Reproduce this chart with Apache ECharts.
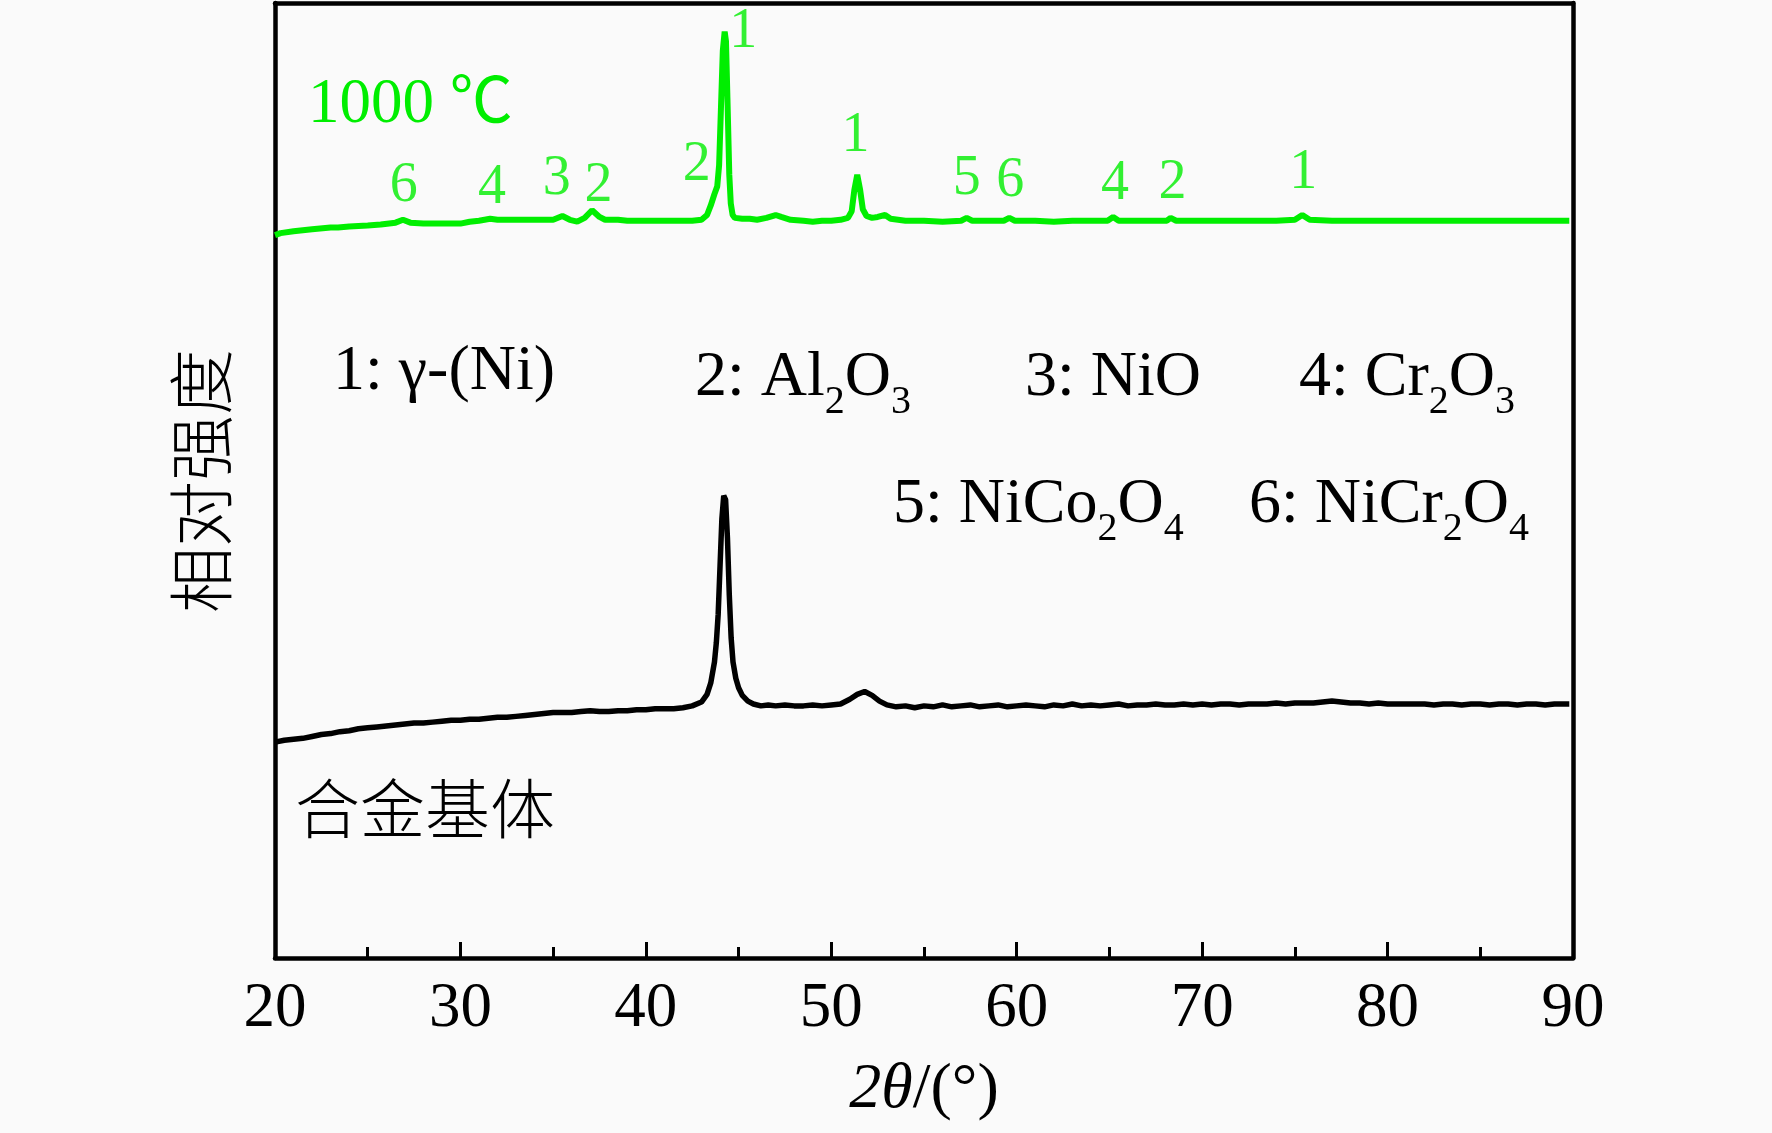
<!DOCTYPE html>
<html>
<head>
<meta charset="utf-8">
<script src="https://cdn.jsdelivr.net/npm/echarts@6/dist/echarts.min.js"></script>
<style>
html,body{margin:0;padding:0;background:#fafafa;}
#chart{width:1772px;height:1133px;}
</style>
</head>
<body>
<div id="chart"></div>
<script>
// ---- data (2θ in degrees, relative intensity in arbitrary units) ----
const xTicks = [20, 30, 40, 50, 60, 70, 80, 90];

const alloyBase = [
  [20.0,22.6],[20.5,22.8],[21.0,22.9],[21.5,23.0],[22.0,23.2],[22.5,23.4],[23.0,23.5],[23.5,23.7],
  [24.0,23.8],[24.5,24.0],[25.0,24.1],[25.5,24.2],[26.0,24.3],[26.5,24.4],[27.0,24.5],[27.5,24.6],
  [28.0,24.6],[28.5,24.7],[29.0,24.8],[29.5,24.9],[30.0,24.9],[30.5,25.0],[31.0,25.0],[31.5,25.1],
  [32.0,25.2],[32.5,25.2],[33.0,25.3],[33.5,25.4],[34.0,25.5],[34.5,25.6],[35.0,25.7],[35.5,25.7],
  [36.0,25.7],[36.5,25.8],[37.0,25.9],[37.5,25.8],[38.0,25.8],[38.5,25.9],[39.0,25.9],[39.5,26.0],
  [40.0,26.0],[40.5,26.1],[41.0,26.1],[41.5,26.1],[42.0,26.2],[42.5,26.4],[43.0,26.8],[43.3,27.6],
  [43.5,28.8],[43.7,31.0],[43.8,33.0],[43.9,36.0],[44.0,41.0],[44.1,46.0],[44.2,48.4],[44.3,48.0],
  [44.4,44.0],[44.5,38.0],[44.6,33.5],[44.7,31.0],[44.85,29.3],[45.0,28.3],[45.2,27.5],[45.5,26.9],
  [45.8,26.6],[46.2,26.4],[46.6,26.5],[47.0,26.4],[47.5,26.5],[48.0,26.4],[48.5,26.4],[49.0,26.5],
  [49.5,26.4],[50.0,26.5],[50.5,26.6],[51.0,27.1],[51.4,27.6],[51.8,27.9],[52.2,27.5],[52.6,26.9],
  [53.0,26.5],[53.5,26.3],[54.0,26.4],[54.5,26.2],[55.0,26.4],[55.5,26.3],[56.0,26.5],[56.5,26.3],
  [57.0,26.4],[57.5,26.5],[58.0,26.3],[58.5,26.4],[59.0,26.5],[59.5,26.3],[60.0,26.4],[60.5,26.5],
  [61.0,26.4],[61.5,26.3],[62.0,26.5],[62.5,26.4],[63.0,26.6],[63.5,26.4],[64.0,26.5],[64.5,26.4],
  [65.0,26.5],[65.5,26.6],[66.0,26.4],[66.5,26.5],[67.0,26.5],[67.5,26.6],[68.0,26.5],[68.5,26.5],
  [69.0,26.6],[69.5,26.5],[70.0,26.6],[70.5,26.5],[71.0,26.6],[71.5,26.6],[72.0,26.5],[72.5,26.6],
  [73.0,26.6],[73.5,26.6],[74.0,26.7],[74.5,26.6],[75.0,26.7],[75.5,26.7],[76.0,26.7],[76.5,26.8],
  [77.0,26.9],[77.5,26.8],[78.0,26.7],[78.5,26.7],[79.0,26.6],[79.5,26.7],[80.0,26.6],[80.5,26.6],
  [81.0,26.6],[81.5,26.6],[82.0,26.6],[82.5,26.5],[83.0,26.6],[83.5,26.6],[84.0,26.5],[84.5,26.6],
  [85.0,26.6],[85.5,26.5],[86.0,26.6],[86.5,26.6],[87.0,26.5],[87.5,26.6],[88.0,26.6],[88.5,26.5],
  [89.0,26.6],[89.5,26.6],[89.8,26.6]
];

const oxidized1000 = [
  [20.0,75.7],[20.3,75.9],[21.0,76.1],[22.0,76.3],[23.0,76.5],[23.4,76.5],[24.0,76.6],[25.0,76.7],
  [25.7,76.8],[26.5,77.0],[26.9,77.3],[27.3,77.0],[28.0,76.9],[29.0,76.9],[30.0,76.9],[30.5,77.1],
  [31.0,77.2],[31.6,77.4],[32.0,77.3],[33.0,77.3],[34.0,77.3],[35.0,77.3],[35.5,77.7],[35.9,77.3],
  [36.3,77.1],[36.7,77.5],[37.1,78.3],[37.5,77.6],[37.8,77.3],[38.5,77.3],[39.0,77.2],[40.0,77.2],
  [41.0,77.2],[42.0,77.2],[42.5,77.2],[43.0,77.3],[43.3,77.8],[43.5,78.8],[43.7,80.0],[43.85,80.8],
  [43.95,83.0],[44.05,89.0],[44.15,95.0],[44.25,97.0],[44.32,96.0],[44.4,90.0],[44.5,82.0],[44.58,79.0],
  [44.68,77.8],[44.8,77.5],[45.2,77.4],[45.6,77.4],[46.0,77.3],[46.5,77.5],[47.0,77.8],[47.3,77.6],
  [47.8,77.3],[48.5,77.2],[49.0,77.1],[49.5,77.2],[50.0,77.2],[50.5,77.3],[50.9,77.5],[51.1,78.2],
  [51.25,80.5],[51.4,82.0],[51.55,80.5],[51.7,78.4],[51.9,77.7],[52.2,77.5],[52.5,77.6],[52.9,77.8],
  [53.2,77.4],[53.6,77.3],[54.0,77.2],[55.0,77.2],[56.0,77.1],[57.0,77.2],[57.3,77.5],[57.6,77.2],
  [58.5,77.2],[59.3,77.2],[59.6,77.5],[59.9,77.2],[61.0,77.2],[62.0,77.1],[63.0,77.2],[64.0,77.2],
  [64.9,77.2],[65.2,77.6],[65.5,77.2],[66.5,77.2],[67.5,77.2],[68.1,77.2],[68.3,77.5],[68.6,77.2],
  [70.0,77.2],[71.0,77.2],[72.0,77.2],[73.0,77.2],[74.0,77.2],[75.0,77.3],[75.4,77.8],[75.8,77.3],
  [77.0,77.2],[80.0,77.2],[83.0,77.2],[86.0,77.2],[89.8,77.2]
];

// phase index labels above the 1000 ℃ pattern (position in 2θ, intensity units)
const peakLabelText = ['6','4','3','2','2','1','1','5','6','4','2','1'];
const peakLabelX    = [26.95,31.7,35.2,37.45,42.75,45.25,51.3,57.3,59.65,65.3,68.4,75.45];
const peakLabelY    = [80.8,80.6,81.5,80.8,83.0,96.9,86.0,81.5,81.3,81.0,81.1,82.2];

const phaseLegend = [
  '{m|1: γ-(Ni)}',
  '{m|2: Al}{s|2}{m|O}{s|3}',
  '{m|3: NiO}',
  '{m|4: Cr}{s|2}{m|O}{s|3}',
  '{m|5: NiCo}{s|2}{m|O}{s|4}',
  '{m|6: NiCr}{s|2}{m|O}{s|4}'
];

// ---- chart ----
const SERIF = '"Liberation Serif", "Times New Roman", serif';
const CJK = '"Noto Sans CJK SC", sans-serif';
const GREEN = '#00ee00';

const chart = echarts.init(document.getElementById('chart'), null, {renderer: 'canvas'});

const richStyle = {
  m: {fontFamily: SERIF, fontSize: 64, lineHeight: 64, verticalAlign: 'top', color: '#000'},
  s: {fontFamily: SERIF, fontSize: 40, lineHeight: 40, padding: [36, 0, 0, 0], verticalAlign: 'top', color: '#000'}
};
const legendPos = [[333, 340], [695, 346], [1025, 346], [1299, 346], [893, 473], [1249, 473]];

const graphics = phaseLegend.map((t, i) => ({
  type: 'text', left: legendPos[i][0], top: legendPos[i][1], silent: true,
  style: {text: t, rich: richStyle, fill: '#000'}
}));
graphics.push({
  type: 'text', x: 308, y: 105, silent: true,
  style: {text: '1000 ℃', fontFamily: '"Liberation Serif", "Noto Sans CJK SC", serif', fontSize: 63,
          fill: GREEN, align: 'left', verticalAlign: 'middle'}
});
graphics.push({
  type: 'text', x: 295, y: 808, silent: true,
  style: {text: '合金基体', fontFamily: CJK, fontSize: 65, fontWeight: 300, fill: '#000',
          align: 'left', verticalAlign: 'middle'}
});
graphics.push({
  type: 'text', x: 201, y: 481, rotation: Math.PI / 2, silent: true,
  style: {text: '相对强度', fontFamily: CJK, fontSize: 66, fontWeight: 300, fill: '#000',
          align: 'center', verticalAlign: 'middle'}
});

const option = {
  backgroundColor: '#fafafa',
  animation: false,
  grid: {left: 275, right: 199, top: 3, bottom: 175, containLabel: false},
  xAxis: [{
    type: 'value', min: 20, max: 90, interval: 10,
    axisLine: {show: true, onZero: false, lineStyle: {color: '#000', width: 4.5}},
    axisTick: {show: true, inside: true, length: 16, lineStyle: {color: '#000', width: 3}},
    minorTick: {show: true, splitNumber: 2, length: 11, lineStyle: {color: '#000', width: 3}},
    splitLine: {show: false},
    axisLabel: {show: true, margin: 20, fontFamily: SERIF, fontSize: 63, color: '#000',
      formatter: v => (xTicks.indexOf(v) >= 0 ? String(v) : '')},
    name: '{i|2θ}/(°)', nameLocation: 'middle', nameGap: 100,
    nameTextStyle: {fontFamily: SERIF, fontSize: 64, color: '#000',
      rich: {i: {fontFamily: SERIF, fontSize: 64, fontStyle: 'italic', color: '#000'}}}
  }, {
    type: 'value', min: 20, max: 90, position: 'top',
    axisLine: {show: true, onZero: false, lineStyle: {color: '#000', width: 4.5}},
    axisTick: {show: false}, axisLabel: {show: false}, splitLine: {show: false}
  }],
  yAxis: [{
    type: 'value', min: 0, max: 100,
    axisLine: {show: true, onZero: false, lineStyle: {color: '#000', width: 4.5}},
    axisTick: {show: false}, axisLabel: {show: false}, splitLine: {show: false}
  }, {
    type: 'value', min: 0, max: 100, position: 'right',
    axisLine: {show: true, onZero: false, lineStyle: {color: '#000', width: 4.5}},
    axisTick: {show: false}, axisLabel: {show: false}, splitLine: {show: false}
  }],
  graphic: graphics,
  series: [{
    name: '合金基体', type: 'line', data: alloyBase, showSymbol: false, smooth: false,
    lineStyle: {color: '#000', width: 5.5}, z: 3
  }, {
    name: '1000 ℃', type: 'line', data: oxidized1000, showSymbol: false, smooth: false,
    lineStyle: {color: GREEN, width: 6}, z: 4
  }, {
    name: 'peaks', type: 'scatter', symbolSize: 1, itemStyle: {color: 'rgba(0,0,0,0)'},
    data: peakLabelText.map((t, i) => ({name: t, value: [peakLabelX[i], peakLabelY[i]]})),
    label: {show: true, position: 'inside', formatter: p => p.name,
      fontFamily: SERIF, fontSize: 56, color: GREEN},
    z: 5
  }]
};
chart.setOption(option);
</script>
</body>
</html>
